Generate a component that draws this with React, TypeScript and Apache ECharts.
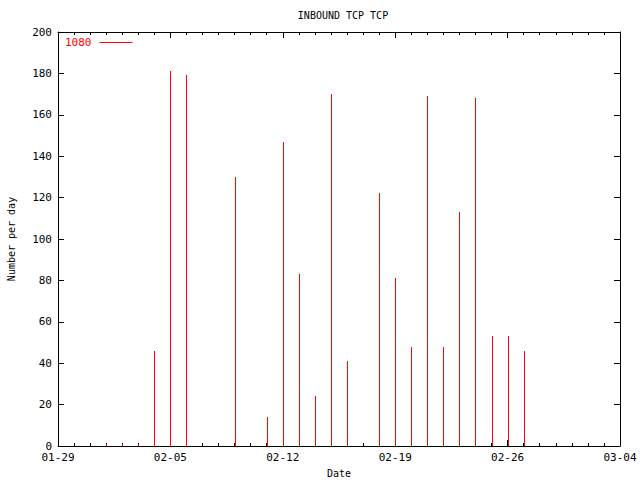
import React, { useEffect, useRef } from "react";
import * as echarts from "echarts";

const startDate = "2004-01-29";
const endDate = "2004-03-04";
const dates = [
  "2004-02-01", "2004-02-02", "2004-02-03", "2004-02-04", "2004-02-05", "2004-02-06",
  "2004-02-09", "2004-02-11", "2004-02-12", "2004-02-13", "2004-02-14", "2004-02-15",
  "2004-02-16", "2004-02-18", "2004-02-19", "2004-02-20", "2004-02-21", "2004-02-22",
  "2004-02-23", "2004-02-24", "2004-02-25", "2004-02-26", "2004-02-27",
];
const values = [
  1, 1, 1, 46, 181, 179,
  130, 14, 147, 83, 24, 170,
  41, 122, 81, 48, 169, 48,
  113, 168, 53, 53, 46,
];
const seriesName = "1080";
const titleText = "INBOUND TCP TCP";
const xName = "Date";
const yName = "Number per day";

const DAY = 86400000;
const t0 = Date.parse(startDate + "T00:00:00Z");
const dayIndex = (d: string) => Math.round((Date.parse(d + "T00:00:00Z") - t0) / DAY);
const fmt = (v: number) => {
  const d = new Date(t0 + v * DAY);
  const mm = String(d.getUTCMonth() + 1).padStart(2, "0");
  const dd = String(d.getUTCDate()).padStart(2, "0");
  return mm + "-" + dd;
};

export default function App() {
  const ref = useRef<HTMLDivElement>(null);
  useEffect(() => {
    if (!ref.current) return;
    const chart = echarts.init(ref.current, null, { renderer: "svg" });
    const font = "DejaVu Sans Mono";
    const maxDay = dayIndex(endDate);
    const xCommon = {
      type: "value",
      min: 0,
      max: maxDay,
      interval: 7,
      splitLine: { show: false },
      axisLine: { show: true, onZero: false, lineStyle: { color: "#000", width: 1 } },
      axisTick: { show: true, inside: true, length: 6, lineStyle: { color: "#000" } },
      minorTick: { show: true, splitNumber: 7, length: 3, lineStyle: { color: "#000" } },
    };
    const yCommon = {
      type: "value",
      min: 0,
      max: 200,
      interval: 20,
      splitLine: { show: false },
      axisLine: { show: true, onZero: false, lineStyle: { color: "#000", width: 1 } },
      axisTick: { show: true, inside: true, length: 6, lineStyle: { color: "#000" } },
    };
    chart.setOption({
      animation: false,
      backgroundColor: "#fff",
      title: {
        text: titleText,
        left: 338,
        textAlign: "center",
        top: 5,
        textStyle: { fontFamily: font, fontSize: 10, fontWeight: "normal", color: "#000" },
      },
      legend: {
        left: 60,
        top: 32,
        align: "right",
        itemWidth: 33,
        itemHeight: 1,
        icon: "rect",
        itemGap: 4,
        textStyle: { fontFamily: font, fontSize: 11, color: "#ff0000", padding: [0, 3, 0, 0] },
        data: [seriesName],
      },
      grid: { left: 58, right: 20, top: 32, bottom: 34, containLabel: false, outerBoundsMode: "none" },
      xAxis: [
        {
          ...xCommon,
          position: "bottom",
          name: xName,
          nameLocation: "middle",
          nameGap: 22,
          nameTextStyle: { fontFamily: font, fontSize: 10, color: "#000" },
          axisLabel: {
            fontFamily: font,
            fontSize: 11,
            color: "#000",
            margin: 6,
            formatter: (v: number) => fmt(v),
          },
        },
        {
          ...xCommon,
          position: "top",
          axisLabel: { show: false },
        },
      ],
      yAxis: [
        {
          ...yCommon,
          position: "left",
          name: yName,
          nameLocation: "middle",
          nameGap: 42,
          nameRotate: 90,
          nameTextStyle: { fontFamily: font, fontSize: 10, color: "#000" },
          axisLabel: { fontFamily: font, fontSize: 11, color: "#000", margin: 6 },
        },
        {
          ...yCommon,
          position: "right",
          axisLabel: { show: false },
        },
      ],
      series: [
        {
          name: seriesName,
          type: "custom",
          xAxisIndex: 0,
          yAxisIndex: 0,
          itemStyle: { color: "#ff0000" },
          encode: { x: 0, y: 1 },
          renderItem: (params: any, api: any) => {
            const top = api.coord([api.value(0), api.value(1)]);
            const base = api.coord([api.value(0), 0]);
            const x = Math.round(top[0]) + 0.5;
            return {
              type: "line",
              z2: 10,
              shape: { x1: x, y1: Math.round(base[1]), x2: x, y2: Math.round(top[1]) },
              style: { stroke: "#ff0000", lineWidth: 1 },
            };
          },
          data: dates.map((d, i) => [dayIndex(d), values[i]]),
        },
      ],
    });
    return () => chart.dispose();
  }, []);
  return <div ref={ref} style={{ width: 640, height: 480, position: "absolute", left: 0, top: 0 }} />;
}
